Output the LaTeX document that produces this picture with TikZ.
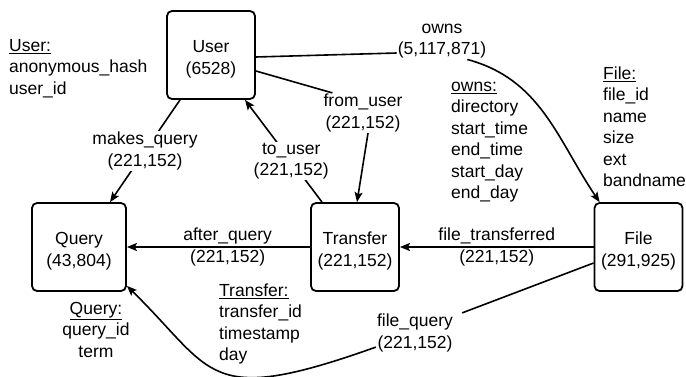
\documentclass[tikz,border=0pt]{standalone}
\usepackage{fontspec}
\setmainfont{Liberation Sans}
\usetikzlibrary{arrows.meta, positioning, calc}

\newcommand{\boxstrut}{\rule{0pt}{21pt}}

\tikzset{
  entity/.style={draw, line width=1.8pt, rounded corners=5pt, minimum width=88pt, minimum height=88pt, align=center, inner sep=2pt},
  rel/.style={line width=1.6pt},
  relarrow/.style={rel, -{Stealth[length=10pt, width=8pt, inset=2pt]}},
  rellabel/.style={fill=white, align=center, inner sep=1pt},
  attrs/.style={align=left, inner sep=0pt, anchor=north west},
}

\begin{document}
\begin{tikzpicture}[x=1pt, y=1pt, font=\fontsize{17.5}{21.5}\selectfont]
  \useasboundingbox (0,0) rectangle (686,-377);

  % entities
  \node[entity] (user) at (211,-55) {\boxstrut User\\(6528)};
  \node[entity, minimum width=94pt] (query) at (79,-247) {\boxstrut Query\\(43,804)};
  \node[entity] (transfer) at (355,-247) {\boxstrut Transfer\\(221,152)};
  \node[entity] (file) at (638.5,-247) {\boxstrut File\\(291,925)};

  % relationships
  \draw[relarrow] ([xshift=-31pt]user.south) -- node[rellabel] (mqlbl) {makes\_query\\(221,152)} ([xshift=31pt]query.north);
  \draw[relarrow] ([xshift=-33pt]transfer.north) -- node[rellabel, pos=0.4] (tulbl) {to\_user\\(221,152)} ([xshift=34pt]user.south);

  \node[rellabel] (fulbl) at (363,-113) {from\_user\\(221,152)};
  \draw[rel] ([yshift=-16pt]user.east) -- ([xshift=10pt]fulbl.north west);
  \draw[relarrow] ([xshift=5pt]fulbl.south) -- ([xshift=2pt]transfer.north);

  \node[rellabel] (ownlbl) at (442,-41) {owns\\(5,117,871)};
  \draw[rel] ([yshift=-2pt]user.east) -- ([yshift=-12pt]ownlbl.west);
  \draw[relarrow] ([xshift=-20pt]ownlbl.south east) to[out=-15, in=124] ([xshift=6pt]file.north west);

  \draw[relarrow, line width=2.2pt] (transfer.west) -- node[pos=0.45, align=center, inner sep=0pt] (aqlbl) {after\_query\\(221,152)} (query.east);
  \draw[relarrow, line width=2.2pt] (file.west) -- node[align=center, inner sep=0pt] (ftlbl) {file\_transferred\\(221,152)} (transfer.east);

  \node[rellabel] (fqlbl) at (415,-333) {file\_query\\(221,152)};
  \draw[rel] ([yshift=-16pt]file.west) -- ([xshift=8pt]fqlbl.north east);
  \draw[relarrow] ([yshift=6pt]fqlbl.south west) .. controls (205,-408) and (215,-372) .. ([yshift=6pt]query.south east);

  % attributes
  \node[attrs] (userattr) at (9,-36) {\strut\underline{User:}\\anonymous\_hash\\user\_id};
  \node[attrs] (ownsattr) at (451,-76) {\strut\underline{owns:}\\directory\\start\_time\\end\_time\\start\_day\\end\_day};
  \node[attrs] (fileattr) at (603,-64) {\strut\underline{File:}\\file\_id\\name\\size\\ext\\bandname};
  \node[attrs, anchor=north, align=center] (queryattr) at (96,-299) {\strut\underline{Query:}\\query\_id\\term};
  \node[attrs] (transattr) at (219,-281) {\strut\underline{Transfer:}\\transfer\_id\\timestamp\\day};
\end{tikzpicture}
\end{document}
